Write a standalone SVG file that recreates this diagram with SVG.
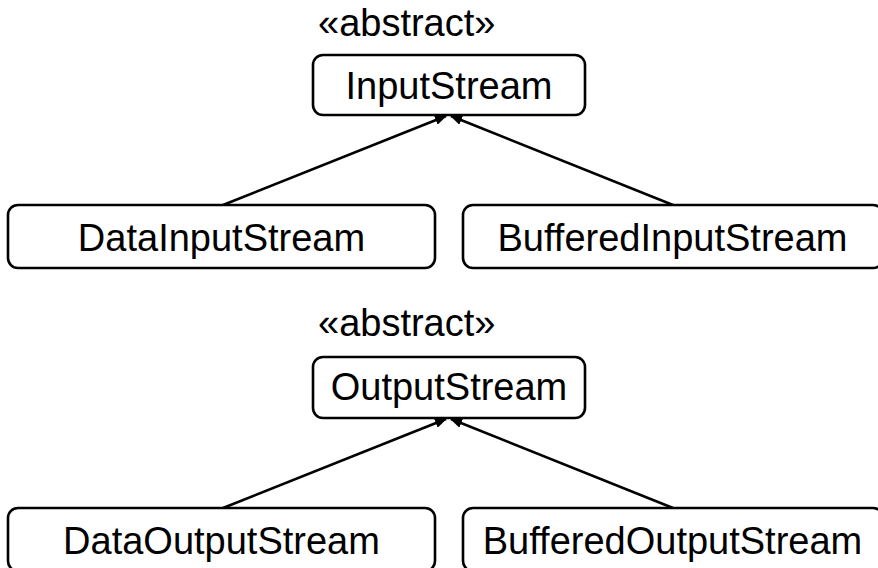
<svg xmlns="http://www.w3.org/2000/svg" width="878" height="568" viewBox="0 0 878 568">
<style>
.box{fill:#fff;stroke:#000;stroke-width:2.6}
.t{font-family:"Liberation Sans",Arial,sans-serif;font-size:38px;fill:#000}
.c{text-anchor:middle}
.edge{stroke:#000;stroke-width:2.6;fill:none;marker-end:url(#ah)}
</style>
<defs>
<marker id="ah" markerUnits="userSpaceOnUse" markerWidth="12" markerHeight="10" refX="11" refY="5" orient="auto">
<path d="M0,0 L12,5 L0,10 Z" fill="#000"/>
</marker>
</defs>
<rect width="878" height="568" fill="#fff"/>
<g id="connectors">
<line class="edge" x1="223" y1="205" x2="446" y2="116"/>
<line class="edge" x1="673" y1="205" x2="451" y2="116"/>
<line class="edge" x1="223" y1="508" x2="446" y2="419"/>
<line class="edge" x1="673" y1="508" x2="451" y2="419"/>
</g>
<g id="InputStream">
<text class="t" x="318" y="36">«abstract»</text>
<rect class="box" x="313" y="55" width="272" height="60" rx="10"/>
<text class="t c" x="449" y="99">InputStream</text>
</g>
<g id="DataInputStream">
<rect class="box" x="8" y="205" width="427" height="63" rx="10"/>
<text class="t c" x="221.5" y="251">DataInputStream</text>
</g>
<g id="BufferedInputStream">
<rect class="box" x="463" y="205" width="420" height="63" rx="10"/>
<text class="t c" x="672.5" y="251">BufferedInputStream</text>
</g>
<g id="OutputStream">
<text class="t" x="318" y="336">«abstract»</text>
<rect class="box" x="313" y="357" width="272" height="61" rx="10"/>
<text class="t c" x="449" y="400">OutputStream</text>
</g>
<g id="DataOutputStream">
<rect class="box" x="8" y="508" width="427" height="63" rx="10"/>
<text class="t c" x="221.5" y="554">DataOutputStream</text>
</g>
<g id="BufferedOutputStream">
<rect class="box" x="463" y="508" width="420" height="63" rx="10"/>
<text class="t c" x="672.5" y="554">BufferedOutputStream</text>
</g>
</svg>
